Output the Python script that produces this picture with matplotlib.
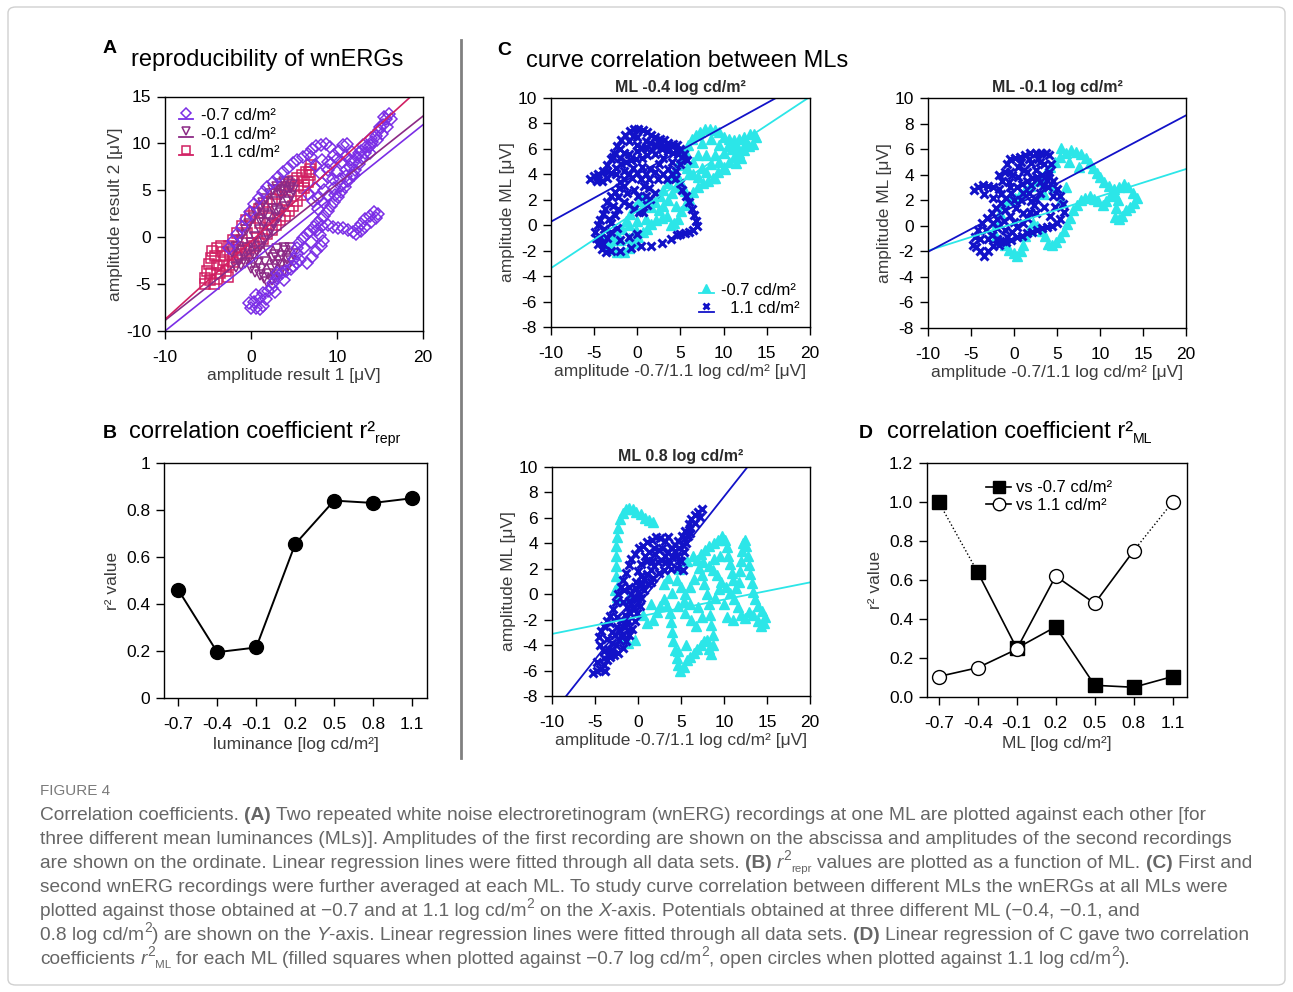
import numpy as np
import matplotlib
matplotlib.use('Agg')
import matplotlib.pyplot as plt
from matplotlib.lines import Line2D
from matplotlib.legend_handler import HandlerBase
from matplotlib.patches import FancyBboxPatch
from matplotlib import font_manager

plt.rcParams['font.family'] = ['Liberation Sans', 'DejaVu Sans']
plt.rcParams['axes.unicode_minus'] = False

W, H = 1293, 992

# ---- B / D : correlation coefficients per mean luminance ----
ml = [-0.7, -0.4, -0.1, 0.2, 0.5, 0.8, 1.1]
r2_repr = [0.46, 0.195, 0.215, 0.655, 0.84, 0.83, 0.85]
r2_vs_m07 = [1.0, 0.64, 0.25, 0.36, 0.06, 0.05, 0.105]
r2_vs_11 = [0.105, 0.15, 0.245, 0.62, 0.48, 0.75, 1.0]

# ---- A : recording 1 vs recording 2 (uV) ----
a_m07 = [(-0.2, -7.0), (0.3, -6.9), (0.6, -7.5), (1.0, -7.7), (1.4, -7.3), (1.0, -6.5), (0.6, -6.2),
         (1.4, -6.0), (2.0, -5.7), (2.4, -5.4), (2.6, -4.9), (3.0, -4.4), (3.0, -3.8), (3.6, -3.8),
         (4.1, -3.6), (4.6, -3.4), (4.9, -3.1), (5.3, -2.7), (5.7, -2.4), (5.4, -1.8), (5.4, -1.2),
         (5.6, -0.6), (6.0, -0.1), (6.5, 0.3), (6.9, 0.7), (7.3, 1.1), (7.7, 1.5), (8.1, 1.9),
         (8.5, 2.3), (8.9, 2.8), (9.3, 3.3), (9.7, 3.8), (10.1, 4.3), (10.5, 4.8), (10.9, 5.4),
         (11.3, 6.0), (11.7, 6.6), (12.1, 7.2), (12.5, 7.8), (12.9, 8.4), (13.3, 9.0), (13.7, 9.6),
         (14.1, 10.2), (14.5, 10.8), (14.9, 11.4), (15.3, 12.0), (15.7, 12.6), (16.1, 13.1),
         (16.3, 12.6), (15.8, 11.8), (15.2, 11.0), (14.6, 10.4), (14.0, 9.8), (13.4, 9.6), (12.8, 9.2),
         (12.3, 8.6), (11.7, 9.1), (11.2, 9.9), (10.7, 9.8), (10.2, 9.2), (9.7, 8.8), (9.2, 9.6),
         (8.7, 9.9), (8.1, 9.8), (7.6, 9.7), (7.1, 9.4), (6.6, 8.9), (6.0, 8.6), (5.4, 8.2), (4.9, 7.9),
         (4.3, 7.4), (3.7, 6.9), (3.1, 6.4), (2.5, 5.9), (1.9, 5.3), (1.4, 4.8), (0.9, 4.2), (0.4, 3.5),
         (-0.1, 2.7), (-0.6, 1.9), (-1.1, 1.1), (-1.6, 0.3), (-2.1, -0.4), (-2.6, -1.1),
         (8.3, 8.2), (8.9, 7.2), (9.5, 6.2), (10.0, 7.0), (10.6, 8.0), (11.0, 7.2), (10.3, 6.2),
         (9.6, 5.2), (9.0, 4.4), (8.5, 3.6), (7.8, 3.0), (7.2, 3.9), (6.6, 4.6), (7.4, 5.2), (8.2, 5.8),
         (8.9, 6.4), (9.3, 7.8), (11.5, 8.2), (12.0, 6.6),
         (9.0, 8.0), (10.0, 8.3), (11.0, 8.7), (12.0, 8.0), (12.5, 9.0), (10.5, 5.5), (11.0, 6.5),
         (11.5, 7.5), (9.8, 4.5), (8.5, 5.0), (7.8, 4.2), (8.0, 6.8), (7.0, 8.5), (7.6, 7.6), (13.0, 9.8),
         (14.0, 10.6), (15.0, 11.8), (15.5, 12.8), (13.8, 9.0), (6.2, -1.2), (7.0, -0.5), (3.8, -4.6),
         (2.8, -5.8), (1.8, -6.6), (0.0, -7.6), (5.0, -2.3),
         (6.5, -2.7), (7.1, -2.1), (7.6, -1.5), (8.1, -0.9), (8.4, -0.4), (8.0, 0.2), (7.7, 0.8),
         (8.3, 1.2), (8.9, 1.3), (9.5, 1.1), (10.1, 1.0), (10.7, 1.0), (11.3, 0.8), (11.9, 0.6),
         (12.4, 1.0), (12.8, 1.4), (13.3, 1.9), (13.8, 2.3), (14.3, 2.7), (14.8, 2.5), (14.5, 2.0),
         (13.9, 1.6), (13.3, 1.1), (12.8, 0.7), (12.2, 0.3)]
a_m01 = [(-2.2, -1.6), (-1.8, -1.0), (-1.4, -0.4), (-1.0, 0.2), (-0.6, 0.8), (-0.2, 1.4), (0.2, 2.0),
         (0.6, 2.6), (1.0, 3.1), (1.4, 3.6), (1.8, 4.1), (2.2, 4.6), (2.6, 5.0), (3.0, 5.4), (3.4, 5.7),
         (3.8, 5.9), (4.3, 5.9), (4.8, 5.6), (4.9, 5.0), (4.6, 4.4), (4.3, 3.8), (3.9, 3.2), (3.5, 2.6),
         (3.1, 2.0), (2.7, 1.4), (2.3, 0.8), (1.9, 0.2), (1.5, -0.4), (1.1, -1.0), (0.7, -1.5),
         (0.3, -1.9), (-0.2, -2.3), (-0.7, -2.7), (-1.2, -3.0), (-1.7, -3.2),
         (0.0, -3.3), (0.5, -3.7), (1.0, -4.0), (1.5, -4.3), (2.0, -3.9), (2.4, -3.4), (2.8, -3.0),
         (3.2, -2.5), (3.6, -2.0), (4.0, -1.5), (4.5, -1.2), (4.9, -1.8), (4.7, -2.5), (4.3, -3.1),
         (3.8, -3.6), (3.3, -4.0), (2.8, -4.3), (2.4, -4.6), (1.9, -4.8),
         (0.5, 0.0), (1.0, 0.8), (1.5, 1.5), (2.0, 2.3), (2.5, 3.0), (3.0, 3.8), (3.5, 4.5), (2.0, -1.5),
         (2.5, -2.2), (3.0, -1.3), (1.6, -2.6), (0.8, -2.8), (-0.5, -1.2), (0.0, -0.6),
         (1.0, 1.8), (1.5, 2.5), (2.5, 1.5), (3.0, 2.8), (4.0, 4.8), (3.5, 5.0), (4.5, 5.2), (-1.0, -1.5),
         (-1.5, -2.4), (0.2, -2.7), (1.2, -3.4), (3.5, -3.0), (4.2, -2.3), (3.8, -1.2), (2.8, -1.9)]
a_11 = [(-5.4, -5.0), (-5.3, -4.3), (-5.1, -3.6), (-4.9, -2.9), (-4.7, -2.2), (-4.5, -1.5), (-4.0, -1.1),
        (-3.5, -0.9), (-3.2, -1.6), (-3.1, -2.4), (-3.3, -3.1), (-3.6, -3.8), (-3.9, -4.5), (-4.3, -5.0),
        (-4.8, -4.6), (-2.6, -0.9), (-2.1, -0.3), (-1.6, 0.4), (-1.1, 1.2), (-0.6, 1.8), (-0.1, 2.3),
        (0.4, 2.7), (0.9, 3.0), (1.4, 3.3), (1.9, 3.7), (2.4, 4.1), (2.9, 4.6), (3.4, 5.0), (3.9, 5.4),
        (4.4, 5.7), (4.9, 6.0), (5.4, 6.3), (5.9, 6.6), (6.4, 6.9), (6.9, 7.3), (7.0, 7.7),
        (6.9, 6.6), (6.6, 5.9), (6.2, 5.2), (5.8, 4.5), (5.4, 3.9), (4.9, 3.3), (4.4, 2.8), (3.9, 2.3),
        (3.4, 1.8), (2.9, 1.3), (2.4, 0.8), (1.9, 0.3), (1.4, -0.2), (0.9, -0.6), (0.4, -0.9),
        (-0.1, -1.2), (-0.6, -1.5), (-1.1, -1.8), (-1.6, -2.2), (-2.1, -2.6), (-2.6, -3.0),
        (-2.9, -3.6), (-2.7, -4.2), (-0.5, 0.5), (-1.0, -0.3), (0.5, 1.0),
        (-4.2, -2.0), (-4.0, -3.0), (-4.6, -3.8), (5.5, 5.5), (6.2, 6.0), (6.8, 7.0), (2.0, 2.0),
        (3.0, 3.0), (4.0, 4.0), (1.0, 1.5), (-1.5, -1.0), (-2.5, -1.8)]
a_slope = [0.733, 0.726, 0.831]
a_icpt = [-2.67, -1.61, -0.45]
a_labels = ['-0.7 cd/m²', '-0.1 cd/m²', '  1.1 cd/m²']

# ---- C : ML x vs -0.7 (cyan) and 1.1 (blue) log cd/m² ----
c1_m07 = [(-3.9, -1.2), (-3.5, -1.6), (-3.0, -1.9), (-2.4, -2.1), (-1.6, -2.1), (-1.0, -1.8), (-0.4, -1.4),
          (0.1, -0.9), (0.6, -0.5), (1.1, -0.3), (1.6, 0.1), (2.2, 0.4), (2.8, 0.6), (3.4, 0.7), (3.9, 0.0),
          (4.3, 0.2), (4.7, 0.5), (5.1, 1.1), (5.5, 1.6), (6.0, 2.1), (6.5, 2.6), (7.0, 3.0), (7.6, 3.3),
          (8.2, 3.5), (8.8, 3.7), (9.4, 4.2), (10.0, 4.6), (10.6, 5.0), (11.2, 5.4), (11.8, 5.7),
          (12.4, 5.9), (12.9, 6.2), (13.4, 6.4), (13.8, 6.9), (13.5, 7.2), (13.0, 7.2), (12.4, 6.9),
          (11.8, 6.8), (11.2, 6.7), (10.6, 6.8), (10.0, 6.9), (9.5, 7.3), (9.0, 7.5), (8.4, 7.6),
          (7.8, 7.6), (7.3, 7.3), (6.8, 7.1), (6.3, 6.8), (5.9, 6.3), (5.5, 5.8), (5.1, 5.2), (4.7, 4.7),
          (4.3, 4.2), (3.9, 3.8), (3.5, 3.3), (3.0, 2.8), (2.6, 2.3), (2.1, 1.8), (1.6, 1.4), (1.1, 1.9),
          (0.7, 2.2), (0.2, 1.9), (-0.3, 1.4), (-0.8, 0.9), (-1.3, 0.3), (-1.8, -0.3), (-2.3, -0.8),
          (-2.8, -1.2), (-1.0, -1.0), (-0.2, -0.4), (7.0, 3.8), (8.0, 4.2), (9.0, 3.7), (10.2, 4.4),
          (11.4, 4.9), (12.0, 5.3), (6.4, 4.0), (5.8, 4.5),
          (7.5, 6.5), (8.5, 6.8), (9.5, 6.3), (10.5, 6.2), (11.5, 6.2), (12.5, 6.4), (8.0, 5.5),
          (9.0, 5.5), (10.0, 5.7), (11.0, 6.0), (7.0, 5.5), (6.5, 5.0), (7.5, 4.5), (8.5, 4.8), (9.5, 5.0),
          (6.0, 4.0), (5.0, 3.5), (4.5, 3.0), (4.0, 2.5), (3.5, 2.0), (3.0, 1.5), (2.5, 1.2), (4.5, 1.5),
          (5.5, 2.7), (1.0, 0.5), (0.0, 0.3), (-1.0, 0.0), (-2.0, -1.2), (-3.3, -0.8), (-3.0, -1.6)]
c1_11 = [(-5.5, 3.6), (-5.0, 3.9), (-4.5, 4.0), (-4.0, 4.3), (-3.5, 4.7), (-3.1, 5.2), (-2.7, 5.7),
         (-2.3, 6.2), (-1.9, 6.7), (-1.4, 7.1), (-0.9, 7.4), (-0.4, 7.6), (0.1, 7.6), (0.6, 7.5),
         (1.1, 7.3), (1.6, 7.1), (2.1, 6.9), (2.6, 6.8), (3.1, 6.7), (3.6, 6.5), (4.1, 6.4), (4.6, 6.3),
         (5.0, 6.0), (5.4, 5.6), (5.7, 5.1), (5.2, 5.4), (4.7, 5.6), (4.1, 5.7), (3.5, 5.8), (2.9, 6.0),
         (2.3, 6.2), (1.7, 5.9), (1.1, 5.5), (0.5, 5.3), (-0.1, 5.2), (-0.7, 5.1), (-1.3, 5.0),
         (-1.9, 4.8), (-2.5, 4.5), (-3.0, 4.1), (-3.5, 3.7), (-4.1, 3.5), (-4.7, 3.5),
         (-2.0, 6.0), (-1.0, 6.6), (0.0, 6.9), (1.0, 6.6), (2.0, 6.3), (-1.5, 5.7), (0.5, 6.1), (3.0, 6.2),
         (-1.6, 3.6), (-0.6, 3.7), (0.4, 3.6), (1.4, 3.6), (2.4, 3.6), (3.4, 3.6), (4.4, 3.6), (5.0, 3.3),
         (5.2, 2.8), (5.6, 2.3), (6.0, 1.8), (6.3, 1.3), (6.6, 0.8), (6.8, 0.3), (6.9, -0.1), (6.5, -0.4),
         (6.0, -0.5), (5.5, -0.6), (5.0, -0.7), (4.6, -0.8), (3.9, -1.1), (2.8, -1.4), (1.6, -1.6),
         (0.4, -1.6), (-0.7, -1.8), (-2.0, -2.0), (-3.0, -2.0), (-3.6, -2.1), (-4.1, -1.9), (-4.5, -1.5),
         (-4.8, -1.0), (-4.9, -0.5), (-4.6, 0.0), (-4.3, 0.4), (-4.0, 0.9), (-3.8, 1.3), (-3.5, 1.8),
         (-3.1, 2.3), (-2.6, 2.6), (-2.1, 2.9), (-1.6, 3.1), (-3.0, 0.2), (-2.6, 0.8), (-2.2, 1.3),
         (-1.6, 1.8), (-1.0, 1.6), (-0.4, 1.3), (0.2, 1.0), (0.7, 1.0), (1.1, 1.6), (1.5, 2.1), (2.0, 2.5),
         (1.4, 2.9), (0.8, 3.1), (-0.4, 2.8), (-3.5, -1.0), (-3.0, -0.5), (-2.4, -0.2),
         (-2.8, 5.4), (-2.0, 5.3), (-1.0, 5.6), (0.0, 5.8), (1.0, 6.1), (2.0, 5.6), (3.0, 5.3), (4.0, 5.0),
         (5.0, 4.8), (-3.5, 4.3), (-2.5, 4.0), (-1.5, 4.3), (-0.5, 4.5), (0.5, 4.6), (1.5, 4.4), (2.5, 4.8),
         (3.5, 4.4), (4.5, 4.3), (-1.0, 4.0), (0.0, 4.1), (1.0, 4.0), (2.0, 4.2), (3.0, 4.0), (4.0, 4.0),
         (-4.5, 3.8), (-2.0, 3.4), (0.0, 6.3), (-0.5, 7.0), (1.5, 6.5), (2.5, 6.5), (3.5, 6.1), (4.5, 5.9),
         (-2.2, 2.2), (-2.8, 1.5), (-3.3, 0.5), (-3.9, -0.3), (-4.3, -0.9), (-1.2, 2.5), (0.1, 2.3),
         (1.0, 2.3), (-2.0, -1.2), (-1.0, -0.9), (0.0, -0.7), (-4.0, -1.5)]
c2_m07 = [(0.4, -2.4), (0.0, -2.1), (-0.6, -1.9), (-1.1, -1.5), (-1.6, -1.1), (-2.1, -0.8), (-2.4, -0.5),
          (-2.0, 0.3), (-1.6, 1.0), (-1.2, 1.7), (-0.6, 2.0), (0.1, 2.2), (0.7, 2.5), (1.3, 2.8), (1.9, 3.1),
          (2.5, 3.5), (3.1, 3.8), (3.7, 4.2), (4.2, 4.6), (4.8, 5.0), (5.4, 5.4), (6.0, 5.7), (6.6, 5.9),
          (7.2, 5.8), (7.8, 5.6), (8.4, 5.3), (8.8, 4.9), (9.2, 4.5), (9.6, 4.1), (10.0, 3.8), (10.5, 3.4),
          (11.0, 3.1), (11.6, 2.9), (12.2, 3.0), (12.8, 3.3), (13.3, 3.0), (13.8, 2.6), (14.3, 2.2),
          (14.0, 1.8), (13.5, 1.5), (13.0, 1.2), (12.6, 0.8), (12.2, 0.5), (11.7, 0.7), (11.9, 1.4),
          (12.1, 2.0), (11.7, 2.4), (11.2, 2.3), (10.7, 1.9), (10.3, 1.6), (9.8, 1.9), (9.3, 2.1),
          (8.8, 2.3), (8.3, 2.2), (7.8, 2.0), (7.3, 1.6), (6.9, 1.2), (6.5, 0.6), (6.2, 0.1), (5.8, -0.4),
          (5.4, -0.9), (4.9, -1.3), (4.4, -1.5), (3.9, -1.4), (3.6, -0.8), (3.2, -0.4), (2.7, 0.0),
          (2.2, 0.2), (1.7, -0.3), (1.3, -0.8), (1.0, -1.5), (0.8, -2.0), (5.5, 6.1), (6.4, 5.0),
          (7.5, 4.6), (3.5, 2.5), (4.5, 3.0), (5.5, 2.0), (6.0, 3.0)]
c2_11 = [(-4.7, 2.8), (-4.2, 3.0), (-3.6, 3.2), (-3.0, 3.1), (-2.4, 3.0), (-1.8, 2.9), (-1.4, 3.5),
         (-1.1, 4.2), (-0.8, 4.8), (-0.5, 5.2), (0.1, 5.3), (0.7, 5.4), (1.3, 5.5), (1.9, 5.7), (2.5, 5.7),
         (3.1, 5.7), (3.7, 5.7), (4.1, 5.5), (4.3, 4.8), (4.1, 4.2), (3.8, 3.6), (3.4, 3.1), (3.0, 2.6),
         (2.6, 2.1), (2.3, 1.6), (1.9, 1.1), (1.5, 0.6), (1.0, 0.2), (0.4, -0.1), (-0.2, -0.5),
         (-0.8, -0.9), (-1.3, -1.2), (-1.8, -1.5), (-2.4, -1.6), (-3.0, -2.0), (-3.5, -2.4), (-3.9, -2.0),
         (-4.4, -1.7), (-4.8, -1.5), (-4.5, -0.9), (-4.2, -0.3), (-3.7, 0.2), (-3.1, 0.6), (-2.6, 1.0),
         (-2.1, 1.4), (-1.5, 1.8), (-0.9, 2.2), (-0.3, 2.6), (0.3, 3.0), (0.9, 3.3), (1.5, 3.5), (2.1, 3.7),
         (2.7, 3.8), (3.3, 4.0), (3.9, 4.0), (4.5, 3.5), (5.0, 2.9), (5.4, 2.3), (5.7, 1.7), (5.8, 1.1),
         (5.4, 0.5), (5.0, 0.2), (4.4, 0.0), (3.8, -0.1), (3.2, -0.2), (2.7, -0.3), (2.1, -0.5),
         (1.5, -0.6), (0.9, -0.8), (0.3, -0.9), (-0.3, -1.1), (-0.9, -1.3), (-1.6, -1.2), (-2.6, -0.7),
         (-2.0, -0.2), (-1.2, 0.4), (-0.5, 0.8), (0.2, 1.4), (0.8, 2.0), (-1.7, 4.0), (-0.5, 4.2),
         (0.5, 4.6), (1.2, 4.4), (2.0, 4.9), (2.8, 5.2), (-0.6, 3.4), (1.8, 2.6), (2.5, 1.0),
         (-3.5, 2.5), (-2.5, 2.2), (-1.5, 2.5), (-0.5, 3.0), (0.5, 3.8), (1.5, 4.2), (2.5, 4.4), (3.5, 4.8),
         (-0.2, 4.0), (0.8, 5.0), (1.8, 5.2), (3.0, 5.0), (-2.0, 0.5), (-1.0, 1.2), (0.0, 2.0), (1.0, 2.6),
         (2.0, 3.2), (3.0, 3.4), (4.0, 3.0), (4.5, 2.3), (4.8, 1.5), (-3.0, -1.0), (-2.0, -1.0),
         (-1.0, -0.3), (0.0, 0.3), (1.0, 1.0), (2.0, 1.9), (3.5, 1.5), (4.2, 0.8), (-4.0, -1.0),
         (-3.3, -0.3), (-2.5, 0.2)]
c3_m07 = [(-2.4, -0.2), (-2.5, 0.6), (-2.6, 1.4), (-2.6, 2.2), (-2.6, 3.0), (-2.6, 3.8), (-2.5, 4.5),
          (-2.3, 5.2), (-2.1, 5.9), (-1.8, 6.4), (-1.4, 6.7), (-1.0, 6.8), (-0.6, 6.7), (-0.2, 6.5),
          (0.3, 6.3), (0.8, 6.0), (1.3, 5.8), (1.8, 5.7),
          (2.2, -1.4), (2.6, -0.9), (3.0, -0.4), (3.4, -0.9), (3.7, -1.5), (3.8, -2.2), (3.9, -3.0),
          (4.1, -3.7), (4.3, -4.4), (4.5, -5.0), (4.7, -5.6), (4.9, -6.0), (5.3, -5.7), (5.7, -5.2),
          (6.1, -4.9), (6.5, -4.6), (6.9, -4.3), (7.3, -4.0), (7.7, -3.7), (8.0, -3.6), (8.3, -4.3),
          (8.5, -4.7), (8.7, -4.0), (8.7, -3.2), (8.5, -2.4), (8.4, -1.6), (8.2, -0.8), (8.0, 0.0),
          (7.7, 0.8), (7.4, 1.5), (7.1, 2.1), (6.9, 2.7), (7.3, 3.2), (7.8, 3.5), (8.3, 3.8), (8.8, 4.0),
          (9.3, 4.3), (9.8, 4.6), (10.1, 4.3), (10.3, 3.7), (10.5, 3.0), (10.7, 2.4), (10.9, 1.7),
          (11.1, 1.1), (11.4, 0.5), (11.7, 1.0), (11.9, 1.8), (12.0, 2.6), (12.1, 3.4), (12.2, 4.0),
          (12.4, 4.3), (12.6, 3.8), (12.8, 3.0), (12.9, 2.3), (13.0, 1.6), (13.2, 0.9), (13.4, 0.2),
          (13.6, -0.4), (14.0, -0.9), (14.4, -1.3), (14.8, -1.8), (14.7, -2.3), (14.3, -2.5),
          (13.9, -2.1), (13.4, -1.6), (12.9, -1.4), (12.4, -1.9), (12.0, -1.6), (11.6, -1.0),
          (11.2, -0.4), (10.7, 0.1), (10.2, 0.6), (9.7, 1.0), (9.2, 1.5), (8.7, 1.9), (8.2, 2.2),
          (7.6, 2.5), (4.5, 1.1), (5.0, 0.6), (5.5, 0.0), (6.0, 0.6), (6.5, 1.2), (6.0, -0.8), (5.3, -0.5),
          (4.6, -0.9), (4.0, 0.1), (3.5, 1.3), (3.0, 0.8), (7.0, -1.0), (7.4, -1.8), (6.7, -2.5),
          (6.2, -2.0), (5.5, -1.5), (4.8, 2.0), (5.7, 2.6), (6.4, 3.0), (1.5, -0.8), (0.6, -1.6),
          (1.0, -2.3), (1.8, -2.0), (9.0, -0.3), (9.4, 0.4), (10.0, -0.8), (9.5, 3.0), (8.8, 2.8),
          (10.4, -1.8), (11.0, -2.0), (-1.0, -0.2), (-2.7, 0.3), (4.7, -4.5), (5.6, -4.0),
          (-2.0, -3.4), (-1.2, -3.8), (-0.3, -3.6)]
c3_11 = [(-5.2, -6.2), (-4.8, -6.0), (-4.4, -5.9), (-4.0, -5.6), (-3.6, -5.2), (-3.3, -4.8), (-3.0, -4.4),
         (-2.6, -4.0), (-2.2, -3.6), (-1.8, -3.1), (-1.5, -2.6), (-1.2, -2.1), (-0.9, -1.5), (-0.6, -1.0),
         (-0.3, -0.4), (0.0, 0.2), (0.3, 0.7), (0.7, 1.2), (1.1, 1.6), (1.5, 1.9), (1.9, 2.2), (2.3, 2.5),
         (2.7, 2.7), (3.1, 3.0), (3.5, 3.3), (3.9, 3.6), (4.3, 3.9), (4.7, 4.2), (5.1, 4.6), (5.5, 5.0),
         (5.9, 5.5), (6.2, 5.9), (6.6, 6.2), (7.0, 6.5), (7.4, 6.7), (7.2, 6.1), (6.6, 5.6), (6.1, 5.2),
         (5.8, 4.6), (5.6, 4.0), (5.3, 3.3), (5.0, 2.6), (4.5, 2.1), (3.8, 2.0), (3.0, 1.9), (2.4, 1.7),
         (1.8, 1.3), (1.2, 0.8), (0.7, 0.3), (0.4, -0.3), (0.2, -0.9), (-0.1, -1.5), (-0.4, -2.1),
         (-0.7, -2.7), (-1.0, -3.2), (-1.4, -3.7), (-1.8, -4.2), (-2.3, -4.6), (-2.8, -4.8), (-3.3, -4.9),
         (-4.0, -4.5), (-4.4, -4.0), (-4.5, -3.4), (-4.3, -2.9), (-3.9, -2.5), (-3.6, -2.1), (-3.2, -1.7),
         (-2.9, -1.2), (-2.6, -0.6), (-2.3, 0.0), (-2.0, 0.6), (-1.7, 1.1), (-1.4, 1.7), (-1.1, 2.3),
         (-0.8, 2.8), (-0.4, 3.2), (0.1, 3.6), (0.6, 3.8), (1.1, 4.1), (1.6, 4.3), (2.1, 4.5), (2.6, 4.4),
         (3.1, 4.2), (3.5, 4.5), (3.8, 3.6), (4.3, 3.4), (2.0, 3.2), (1.0, 2.6), (0.0, 1.8), (-1.0, 0.6),
         (-1.8, -0.6), (-2.4, -1.8), (-3.0, -3.0), (-0.5, -0.2), (0.5, 0.9), (-1.5, -1.6), (4.8, 2.7),
         (5.2, 1.9),
         (-4.0, -5.0), (-3.5, -4.3), (-3.6, -3.5), (-3.0, -3.8), (-2.7, -3.2), (-2.2, -2.8), (-2.0, -2.0),
         (-1.5, -2.2), (-1.3, -1.0), (-1.0, -0.5), (-0.8, 0.0), (-0.6, -1.2), (-0.4, 0.5), (-0.2, 1.0),
         (0.3, 1.4), (0.4, 2.4), (0.8, 3.0), (1.3, 3.3), (1.6, 2.6), (1.9, 3.6), (2.4, 3.5), (2.8, 3.6),
         (3.2, 2.5), (3.6, 2.6), (4.0, 2.9), (4.5, 3.0), (4.8, 3.6), (5.2, 3.9), (5.5, 4.4), (6.0, 4.8),
         (-4.8, -5.3), (-3.8, -6.0), (-2.0, -3.3), (-1.2, -2.8), (-3.2, -2.3), (-2.5, -2.6), (-1.6, 0.3),
         (-0.1, -0.4), (1.5, 1.0)]
c_titles = ['ML -0.4 log cd/m²', 'ML -0.1 log cd/m²', 'ML 0.8 log cd/m²']
c_slope = [(0.449, 0.373), (0.213, 0.356), (0.135, 0.854)]
c_icpt = [(1.12, 4.01), (0.18, 1.52), (-1.77, -0.87)]

col_a = ['#7b2ee6', '#8c2a86', '#d11f62']
cyan, blue = '#2ce6e8', '#1212c8'
label_gray = '#3c3c3c'

fig = plt.figure(figsize=(W / 100, H / 100), dpi=100)
renderer = fig.canvas.get_renderer()


def add_axes(l, t, r, b):
    ax = fig.add_axes([l / W, 1 - b / H, (r - l) / W, (b - t) / H])
    for s in ax.spines.values():
        s.set_linewidth(1.0)
    ax.tick_params(direction='out', length=6, width=1, labelsize=12.5)
    ax.tick_params(axis='x', pad=8)
    ax.tick_params(axis='y', pad=4)
    return ax


class MarkerOverLine(HandlerBase):
    # Igor-style legend key: symbol sitting on top of a short line
    def create_artists(self, legend, orig, xdescent, ydescent, width, height, fontsize, trans):
        yc = (height - ydescent) / 2
        line = Line2D([-xdescent + 0.1 * width, -xdescent + 0.9 * width], [yc - 0.38 * height] * 2,
                      color=orig.get_color(), lw=1.3)
        mk = Line2D([-xdescent + width / 2], [yc + 0.12 * height], marker=orig.get_marker(),
                    ms=orig.get_markersize(), mfc=orig.get_markerfacecolor(),
                    mec=orig.get_markeredgecolor(), mew=orig.get_markeredgewidth(), ls='none')
        line.set_transform(trans)
        mk.set_transform(trans)
        return [line, mk]


def text_w(s, **kw):
    t = fig.text(0, 0, s, **kw)
    w = t.get_window_extent(renderer).width
    t.remove()
    return w


def rich(x, y, pieces, size, color='black', family='Liberation Sans'):
    # pieces: (text, kind) laid out left to right on one baseline (pixel coords)
    sp = text_w('n n', size=size, family=family) - text_w('nn', size=size, family=family)
    for s, kind in pieces:
        kw = dict(size=size, color=color, family=family)
        dy = 0
        if kind == 'b':
            kw['weight'] = 'bold'
        elif kind == 'i':
            kw['style'] = 'italic'
        elif kind == 'sup':
            kw['size'] = size * 0.72
            dy = size * 0.42 * 100 / 72
        elif kind == 'sub':
            kw['size'] = size * 0.6
            dy = -size * 0.22 * 100 / 72
        if s.startswith(' '):
            x += sp
        core = s.strip()
        if core:
            t = fig.text(x / W, 1 - (y - dy) / H, core, va='baseline', ha='left', **kw)
            x += t.get_window_extent(renderer).width
            if s.endswith(' '):
                x += sp
    return x


# ---------------- A ----------------
ax = add_axes(165, 96.5, 423, 331)
markers_a = [('D', 6.3), ('v', 7.0), ('s', 7.5)]
handles = []
for pts, c, (m, ms) in list(zip([a_m07, a_m01, a_11], col_a, markers_a))[::-1]:
    p = np.array(pts)
    ax.plot(p[:, 0], p[:, 1], ls='none', marker=m, ms=ms, mfc='none', mec=c, mew=1.1)
for k in range(3):
    xs = np.array([-10, 20])
    ax.plot(xs, a_slope[k] * xs + a_icpt[k], color=col_a[k], lw=1.2)
    handles.append(Line2D([], [], color=col_a[k], marker=markers_a[k][0], ms=markers_a[k][1] * 0.8,
                          mfc='none', mec=col_a[k], mew=1.1))
ax.set_xlim(-10, 20)
ax.set_ylim(-10, 15)
ax.set_xticks([-10, 0, 10, 20])
ax.set_yticks([-10, -5, 0, 5, 10, 15])
ax.set_xlabel('amplitude result 1 [μV]', fontsize=12.5, color=label_gray, labelpad=2)
ax.set_ylabel('amplitude result 2 [μV]', fontsize=12.5, color=label_gray, labelpad=2)
ax.legend(handles, a_labels, loc='upper left', frameon=False, fontsize=12,
          handler_map={Line2D: MarkerOverLine()}, handlelength=1.1, handletextpad=0.35,
          labelspacing=0.2, borderaxespad=0.3)

# ---------------- B ----------------
ax = add_axes(164, 463, 427, 698)
ax.plot(ml, r2_repr, color='black', lw=1.4, marker='o', ms=10)
ax.set_xlim(-0.81, 1.215)
ax.set_ylim(0, 1)
ax.set_xticks(ml)
ax.set_xticklabels([f'{v:.1f}' for v in ml])
ax.set_yticks([0, 0.2, 0.4, 0.6, 0.8, 1])
ax.set_yticklabels(['0', '0.2', '0.4', '0.6', '0.8', '1'])
ax.set_xlabel('luminance [log cd/m²]', fontsize=12.5, color=label_gray, labelpad=3)
ax.set_ylabel('r² value', fontsize=12.5, color=label_gray, labelpad=4)

# ---------------- C ----------------
c_boxes = [(551, 98, 810, 327), (928, 98, 1186, 328), (552, 467, 810, 696)]
c_data = [(c1_m07, c1_11), (c2_m07, c2_11), (c3_m07, c3_11)]
for k in range(3):
    ax = add_axes(*c_boxes[k])
    pm, pb = np.array(c_data[k][0]), np.array(c_data[k][1])
    ax.plot(pm[:, 0], pm[:, 1], ls='none', marker='^', ms=6.5, mfc=cyan, mec=cyan)
    ax.plot(pb[:, 0], pb[:, 1], ls='none', marker='x', ms=5.5, mec=blue, mew=2.2)
    xs = np.array([-10, 20])
    ax.plot(xs, c_slope[k][0] * xs + c_icpt[k][0], color=cyan, lw=1.3)
    ax.plot(xs, c_slope[k][1] * xs + c_icpt[k][1], color=blue, lw=1.3)
    ax.set_xlim(-10, 20)
    ax.set_ylim(-8, 10)
    ax.set_xticks([-10, -5, 0, 5, 10, 15, 20])
    ax.set_yticks(np.arange(-8, 11, 2))
    ax.set_title(c_titles[k], fontsize=11.5, fontweight='bold', color='#2a2a2a', pad=4)
    ax.set_xlabel('amplitude -0.7/1.1 log cd/m² [μV]', fontsize=12.5, color=label_gray, labelpad=2)
    ax.set_ylabel('amplitude ML [μV]', fontsize=12.5, color=label_gray, labelpad=2)
    if k == 0:
        h = [Line2D([], [], color=cyan, marker='^', ms=6, mfc=cyan, mec=cyan),
             Line2D([], [], color=blue, marker='x', ms=5, mec=blue, mew=2)]
        ax.legend(h, ['-0.7 cd/m²', '  1.1 cd/m²'], loc='lower right', frameon=False, fontsize=12,
                  handler_map={Line2D: MarkerOverLine()}, handlelength=1.1, handletextpad=0.3,
                  labelspacing=0.2, borderaxespad=0.25)

# ---------------- D ----------------
ax = add_axes(927, 463, 1187, 697)
ax.plot(ml[:2], r2_vs_m07[:2], color='black', lw=1, ls=':')
ax.plot(ml[1:], r2_vs_m07[1:], color='black', lw=1.2, marker='s', ms=10, mfc='black', mec='black')
ax.plot(ml[:1], r2_vs_m07[:1], ls='none', marker='s', ms=10, color='black')
ax.plot(ml[-2:], r2_vs_11[-2:], color='black', lw=1, ls=':')
ax.plot(ml[:-1], r2_vs_11[:-1], color='black', lw=1.2, marker='o', ms=10, mfc='white', mec='black')
ax.plot(ml[-1:], r2_vs_11[-1:], ls='none', marker='o', ms=10, mfc='white', mec='black')
ax.set_xlim(-0.79, 1.21)
ax.set_ylim(0, 1.2)
ax.set_xticks(ml)
ax.set_xticklabels([f'{v:.1f}' for v in ml])
ax.set_yticks(np.arange(0, 1.21, 0.2))
ax.set_yticklabels([f'{v:.1f}' for v in np.arange(0, 1.21, 0.2)])
ax.set_xlabel('ML [log cd/m²]', fontsize=12.5, color=label_gray, labelpad=3)
ax.set_ylabel('r² value', fontsize=12.5, color=label_gray, labelpad=4)
hd = [Line2D([], [], color='black', lw=1.2, marker='s', ms=9),
      Line2D([], [], color='black', lw=1.2, marker='o', ms=9, mfc='white')]
ax.legend(hd, ['vs -0.7 cd/m²', 'vs 1.1 cd/m²'], loc='upper center', bbox_to_anchor=(0.47, 0.99),
          frameon=False, fontsize=12, handlelength=1.5, handletextpad=0.3, labelspacing=0.15)

# ---------------- panel letters and headings ----------------
for letter, x, y in [('A', 103, 53), ('B', 103, 438), ('C', 497, 55), ('D', 859, 438)]:
    fig.text(x / W, 1 - y / H, letter, fontsize=14, fontweight='bold', va='baseline')
fig.text(131 / W, 1 - 66 / H, 'reproducibility of wnERGs', fontsize=17, va='baseline')
fig.text(526 / W, 1 - 67 / H, 'curve correlation between MLs', fontsize=17, va='baseline')
rich(129, 438, [('correlation coefficient r²', 'n'), ('repr', 'sub')], 17)
rich(887, 438, [('correlation coefficient r²', 'n'), ('ML', 'sub')], 17)

fig.add_artist(Line2D([461 / W, 461 / W], [1 - 40 / H, 1 - 758 / H], color='#808080', lw=2))
fig.add_artist(FancyBboxPatch((8 / W, 7 / H), 1277 / W, 978 / H, transform=fig.transFigure,
                              boxstyle='round,pad=0,rounding_size=0.006', fill=False,
                              ec='#d0d0d0', lw=1))

# ---------------- caption ----------------
names = {f.name for f in font_manager.fontManager.ttflist}
cap_family = 'Liberation Sans Narrow' if 'Liberation Sans Narrow' in names else 'Liberation Sans'
cap_lines = [
    [('Correlation coefficients. ', 'n'), ('(A)', 'b'),
     (' Two repeated white noise electroretinogram (wnERG) recordings at one ML are plotted against each other [for', 'n')],
    [('three different mean luminances (MLs)]. Amplitudes of the first recording are shown on the abscissa and amplitudes of the second recordings', 'n')],
    [('are shown on the ordinate. Linear regression lines were fitted through all data sets. ', 'n'), ('(B)', 'b'),
     (' ', 'n'), ('r', 'i'), ('2', 'sup'), ('repr', 'sub'), (' values are plotted as a function of ML. ', 'n'),
     ('(C)', 'b'), (' First and', 'n')],
    [('second wnERG recordings were further averaged at each ML. To study curve correlation between different MLs the wnERGs at all MLs were', 'n')],
    [('plotted against those obtained at \u22120.7 and at 1.1 log cd/m', 'n'), ('2', 'sup'), (' on the ', 'n'),
     ('X', 'i'), ('-axis. Potentials obtained at three different ML (\u22120.4, \u22120.1, and', 'n')],
    [('0.8 log cd/m', 'n'), ('2', 'sup'), (') are shown on the ', 'n'), ('Y', 'i'),
     ('-axis. Linear regression lines were fitted through all data sets. ', 'n'), ('(D)', 'b'),
     (' Linear regression of C gave two correlation', 'n')],
    [('coefficients ', 'n'), ('r', 'i'), ('2', 'sup'), ('ML', 'sub'),
     (' for each ML (filled squares when plotted against \u22120.7 log cd/m', 'n'), ('2', 'sup'),
     (', open circles when plotted against 1.1 log cd/m', 'n'), ('2', 'sup'), (').', 'n')],
]
ref_w = text_w(cap_lines[1][0][0], size=10, family=cap_family)
cap_size = 10 * 1198 / ref_w
fig.text(40 / W, 1 - 795 / H, 'FIGURE 4', fontsize=cap_size * 0.8, color='#7a7a7a', family=cap_family,
         va='baseline')
for i, line in enumerate(cap_lines):
    rich(40, 820 + 24 * i, line, cap_size, color='#666666', family=cap_family)

fig.savefig('out.png', dpi=100)
